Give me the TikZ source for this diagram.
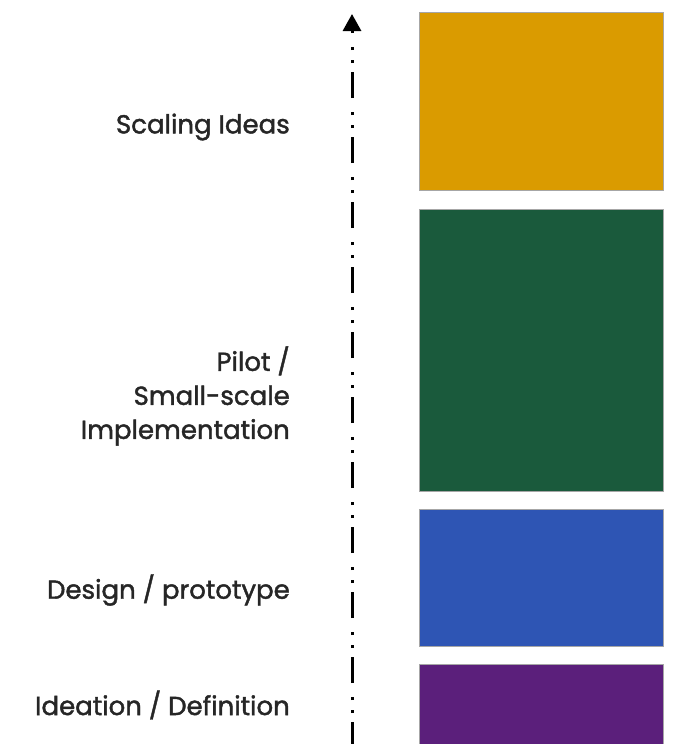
\documentclass[tikz,border=0pt]{standalone}
\usepackage{fontspec}
\setmainfont{Poppins}
\newfontfamily\stagefont{Poppins}[BoldFont=Poppins, BoldFeatures={FakeBold=1.6}]
\usetikzlibrary{positioning,arrows.meta}
\definecolor{scalegold}{HTML}{DA9B00}
\definecolor{pilotgreen}{HTML}{1A5A3C}
\definecolor{designblue}{HTML}{2E55B4}
\definecolor{ideapurple}{HTML}{5B1F7B}
\tikzset{
  stagebox/.style={draw=gray!70, line width=0.8pt, anchor=north west, inner sep=0pt, minimum width=244pt},
  stagelabel/.style={anchor=east, align=right, inner sep=0pt, font=\stagefont\bfseries\fontsize{26}{34}\selectfont, text=black!85},
  axisline/.style={line width=3pt, dash pattern=on 26pt off 9pt on 3pt off 10pt on 3pt off 14pt, dash phase=4pt,
    -{Triangle[length=17pt,width=18pt]}}
}

\begin{document}
\begin{tikzpicture}[x=1pt,y=-1pt]
    \useasboundingbox (0,0) rectangle (680,744);
    % Draw the stages, bottom one runs off the page
    \node[stagebox, fill=scalegold, minimum height=178pt] (scaling) at (419,12) {};
    \node[stagebox, fill=pilotgreen, minimum height=282pt] (pilot) at (419,209) {};
    \node[stagebox, fill=designblue, minimum height=137pt] (design) at (419,509) {};
    \node[stagebox, fill=ideapurple, minimum height=100pt] (ideation) at (419,664) {};

    % Labels
    \node[stagelabel] (scalinglabel) at (290,127) {Scaling Ideas};
    \node[stagelabel] (pilotlabel) at (290,396) {Pilot /\\Small-scale\\Implementation};
    \node[stagelabel] (designlabel) at (290,590) {Design / prototype};
    \node[stagelabel] (ideationlabel) at (290,705) {Ideation / Definition};

    % Draw axis
    \coordinate (axisbottom) at (352,744);
    \coordinate (axistop) at (352,14);
    \draw[axisline] (axisbottom) -- (axistop);
\end{tikzpicture}
\end{document}
